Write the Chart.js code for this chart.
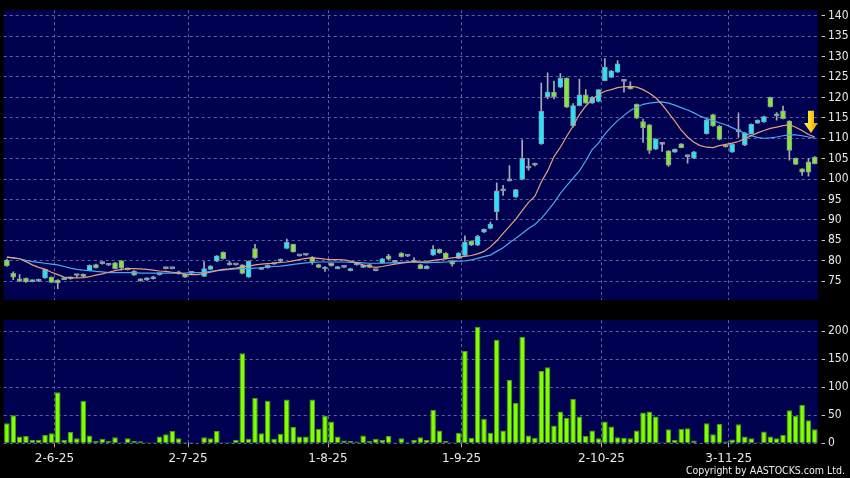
<!DOCTYPE html>
<html>
<head>
<meta charset="utf-8">
<script src="https://cdn.jsdelivr.net/npm/chart.js@4.4.1/dist/chart.umd.min.js"></script>
<style>
	html, body { margin: 0; padding: 0; background: #000; }
	#wrap { position: relative; width: 850px; height: 478px; overflow: hidden; background: #000; }
	#price { position: absolute; left: 0; top: 0; }
	#volume { position: absolute; left: 0; top: 310px; }
	#copy {
		position: absolute; right: 5px; top: 464px;
		font: 10.5px "DejaVu Sans Condensed", "DejaVu Sans", sans-serif;
		color: #ececec; white-space: nowrap;
	}
</style>
</head>
<body>
<div id="wrap">
	<canvas id="price" width="850" height="310"></canvas>
	<canvas id="volume" width="850" height="168"></canvas>
	<div id="copy">Copyright by AASTOCKS.com Ltd.</div>
</div>
<script>
// Dias de negociação (HK) de 22-5-25 a 21-11-25
const feriados = ["2025-07-01", "2025-10-01", "2025-10-07", "2025-10-29"];
const dias = [];
for (let d = new Date(Date.UTC(2025, 4, 22)); d <= new Date(Date.UTC(2025, 10, 21)); d.setUTCDate(d.getUTCDate() + 1)) {
	const wd = d.getUTCDay();
	if (wd === 0 || wd === 6 || feriados.includes(d.toISOString().slice(0, 10))) continue;
	dias.push(`${d.getUTCDate()}-${d.getUTCMonth() + 1}-${String(d.getUTCFullYear()).slice(2)}`);
}

// Rótulos do eixo x
const rotulos = ["2-6-25", "2-7-25", "1-8-25", "1-9-25", "2-10-25", "3-11-25"];

// OHLC
const abertura = [
	80.2, 76.9, 75.6, 75.7, 74.9, 75.0, 75.8, 76.0, 75.3, 75.4,
	75.6, 76.4, 76.7, 77.6, 79.1, 79.3, 78.9, 79.5, 80.0, 77.8,
	77.5, 75.5, 75.3, 75.6, 76.6, 78.1, 78.1, 76.8, 76.7, 76.9,
	null, 76.2, 77.9, 79.9, 82.1, 79.0, 79.0, 79.0, 76.0, 83.0,
	77.9, 78.3, 79.2, 79.9, 83.0, 84.0, 81.2, 81.4, 80.9, 79.1,
	78.0, 79.4, 78.1, 78.4, 77.6, 79.0, 78.4, 79.1, 77.6, 79.5,
	81.2, 79.6, 81.9, 81.1, 79.7, 79.1, 78.1, 81.4, 82.8, 81.9,
	80.0, 80.6, 81.3, 84.8, 83.8, 87.0, 87.9, 92.0, 97.1, 99.6,
	95.6, 99.9, 102.7, 103.4, 108.6, 120.1, 121.3, 122.5, 124.7, 113.1,
	118.0, 120.6, 118.6, 119.0, 124.1, 124.9, 126.2, 123.9, 122.7, 118.3,
	114.1, 113.3, 107.3, 108.5, 106.9, 106.6, 108.6, 105.5, 105.1, null,
	111.1, 115.8, 113.0, 108.3, 106.6, 111.6, 108.3, 111.1, 113.7, 114.0,
	120.0, 115.5, 116.7, 114.2, 105.1, 102.5, 104.2, 105.4,
];
const maxima = [
	80.4, 77.3, 76.6, 75.8, 75.3, 75.5, 78.0, 76.1, 75.4, 75.7,
	76.1, 76.7, 76.8, 79.0, 79.2, 79.8, 79.0, 79.6, 80.1, 78.2,
	77.6, 75.6, 75.9, 76.2, 77.0, 78.3, 78.2, 77.5, 76.8, 77.1,
	null, 79.8, 78.8, 81.3, 82.2, 79.9, 79.1, 79.1, 80.0, 84.0,
	78.4, 79.0, 79.3, 80.5, 85.3, 84.1, 81.3, 81.5, 81.0, 79.2,
	78.6, 79.5, 78.6, 78.5, 78.2, 79.4, 78.9, 79.2, 77.7, 80.6,
	81.6, 80.0, 82.0, 81.2, 80.8, 79.2, 78.8, 83.7, 82.9, 82.0,
	80.1, 82.0, 86.1, 84.9, 86.3, 87.8, 89.5, 99.1, 98.5, 103.3,
	97.5, 109.6, 105.0, 103.9, 123.5, 126.0, 124.0, 125.8, 124.8, 118.5,
	124.5, 121.9, 120.2, 122.0, 129.5, 126.6, 129.0, 124.1, 123.8, 118.4,
	114.7, 113.4, 109.9, 109.0, 107.0, 107.4, 108.7, 105.9, 106.8, null,
	114.6, 115.9, 113.1, 108.4, 108.6, 116.2, 111.4, 113.5, 114.5, 115.4,
	120.1, 116.3, 117.9, 114.3, 105.2, 102.6, 105.0, 105.5,
];
const minimas = [
	78.6, 75.4, 74.9, 74.7, 74.8, 74.9, 75.7, 74.6, 73.2, 75.4,
	75.5, 76.0, 76.1, 77.5, 78.2, 79.2, 78.8, 78.0, 77.7, 77.7,
	76.4, 75.0, 75.2, 75.5, 76.5, 78.0, 78.0, 76.7, 75.9, 76.8,
	null, 76.1, 77.8, 79.8, 80.4, 78.9, 78.9, 76.8, 75.9, 80.6,
	77.8, 78.2, 79.1, 79.7, 82.9, 82.1, 81.1, 81.3, 79.1, 78.3,
	77.4, 78.7, 78.0, 78.3, 77.5, 78.9, 78.3, 78.3, 77.5, 79.4,
	80.3, 79.5, 80.9, 81.0, 79.6, 78.0, 78.0, 81.3, 81.8, 80.4,
	78.7, 80.5, 81.2, 83.7, 83.7, 86.9, 87.8, 90.0, 96.0, 99.5,
	95.5, 99.8, 102.2, 103.2, 108.5, 119.6, 119.6, 122.4, 117.5, 112.7,
	117.9, 118.5, 118.5, 118.9, 124.0, 124.8, 126.1, 121.3, 122.0, 114.8,
	109.0, 106.3, 107.2, 106.8, 103.1, 106.5, 107.6, 103.9, 105.0, null,
	111.0, 112.9, 109.6, 107.8, 106.5, 110.2, 108.2, 111.0, 113.6, 113.9,
	117.6, 114.4, 114.7, 104.6, 103.5, 100.9, 100.7, 103.7,
];
const fechamento = [
	78.8, 76.0, 75.0, 74.8, 75.2, 75.4, 77.9, 74.7, 74.6, 75.6,
	76.0, 76.4, 76.2, 78.9, 78.3, 79.3, 78.9, 78.1, 78.3, 78.1,
	76.5, 75.1, 75.8, 76.1, 76.9, 78.1, 78.1, 77.1, 76.0, 77.0,
	null, 78.1, 78.7, 81.2, 80.5, 79.5, 79.0, 76.9, 79.9, 80.7,
	78.3, 78.9, 79.2, 80.2, 84.5, 82.2, 81.2, 81.4, 79.8, 78.4,
	78.0, 78.8, 78.5, 78.4, 78.1, 79.3, 78.8, 78.4, 77.6, 80.5,
	80.4, 79.9, 81.0, 81.1, 80.2, 78.1, 78.7, 82.8, 81.9, 80.5,
	79.2, 81.9, 84.6, 83.8, 86.0, 87.7, 89.0, 97.1, 97.1, 99.6,
	97.4, 105.1, 102.7, 103.4, 116.6, 121.3, 120.1, 124.7, 117.6, 118.0,
	120.6, 118.6, 120.1, 121.9, 127.4, 126.5, 128.2, 123.9, 122.1, 114.9,
	112.5, 107.0, 109.8, 108.5, 103.4, 107.3, 107.7, 105.5, 106.7, null,
	114.5, 113.0, 109.7, 107.9, 108.5, 111.6, 111.3, 113.4, 114.4, 115.3,
	117.7, 115.9, 114.8, 107.0, 103.6, 101.7, 101.7, 103.8,
];

// Médias móveis (laranja = 10 dias, azul = 20 dias)
const media10 = [
	80.9, 80.7, 80.5, 79.8, 79.0, 78.4, 77.9, 77.2, 76.6, 76.0,
	75.8, 75.8, 75.9, 76.1, 76.5, 76.8, 77.2, 77.6, 77.9, 78.1,
	78.1, 78.0, 77.9, 77.7, 77.5, 77.4, 77.2, 77.0, 76.7, 76.6,
	76.6, 76.9, 77.2, 77.6, 77.9, 78.0, 78.2, 78.5, 78.7, 79.0,
	79.2, 79.3, 79.4, 79.6, 79.7, 80.0, 80.3, 80.6, 80.7, 80.6,
	80.4, 80.3, 80.3, 80.2, 79.9, 79.5, 79.0, 78.6, 78.4, 78.6,
	78.9, 79.2, 79.4, 79.6, 79.8, 79.7, 79.8, 80.1, 80.3, 80.5,
	80.7, 80.9, 81.1, 81.3, 81.7, 82.3, 83.4, 84.9, 86.7, 88.4,
	90.2, 92.3, 94.3, 95.8, 99.3, 102.0, 105.5, 107.8, 110.5, 113.0,
	115.8, 117.9, 119.5, 120.7, 121.5, 121.9, 122.4, 122.6, 122.7, 122.5,
	121.9, 121.0, 119.9, 118.2, 116.2, 114.2, 112.0, 110.3, 109.0, 108.2,
	107.8, 107.7, 108.2, 108.5, 108.8, 109.2, 109.9, 110.6, 111.3, 111.9,
	112.4, 112.7, 113.1, 113.3, 112.7, 111.9, 110.9, 110.3,
];
const media20 = [
	80.9, 80.7, 80.5, 80.1, 79.8, 79.6, 79.4, 79.2, 79.0, 78.6,
	78.2, 77.9, 77.7, 77.6, 77.4, 77.3, 77.1, 77.1, 77.1, 77.1,
	77.1, 77.0, 77.0, 77.0, 77.0, 77.0, 77.0, 77.0, 77.0, 77.1,
	77.1, 77.2, 77.4, 77.6, 77.7, 77.9, 78.0, 78.1, 78.1, 78.2,
	78.3, 78.5, 78.6, 78.7, 78.9, 79.1, 79.3, 79.5, 79.6, 79.7,
	79.7, 79.7, 79.7, 79.7, 79.6, 79.6, 79.5, 79.4, 79.4, 79.4,
	79.5, 79.5, 79.6, 79.7, 79.7, 79.6, 79.5, 79.6, 79.6, 79.7,
	79.8, 79.9, 80.0, 80.2, 80.6, 81.0, 81.4, 82.3, 83.2, 84.4,
	85.5, 86.7, 87.9, 88.9, 90.3, 92.2, 94.2, 96.5, 98.4, 100.2,
	102.0, 104.5, 107.2, 108.8, 111.0, 112.8, 114.3, 115.6, 116.8, 117.6,
	118.3, 118.6, 118.8, 118.9, 118.6, 118.1, 117.5, 116.9, 116.2, 115.4,
	114.8, 114.3, 113.8, 113.3, 112.6, 111.9, 111.2, 110.6, 110.2, 110.0,
	110.1, 110.3, 110.6, 110.8, 110.8, 110.6, 110.3, 110.0,
];

// Volume (em milhares)
const volume = [
	36, 50, 12, 13, 6, 6, 15, 18, 91, 6,
	20, 9, 76, 14, 4, 8, 4, 11, 2, 9,
	4, 3.5, 2, 2, 12, 16, 22, 9, 2, 2,
	0, 11, 9, 22, 2, 2, 6, 161, 8, 81,
	18, 76, 8, 17, 78, 29, 12, 12, 78, 26,
	49, 39, 12, 5, 4, 3, 14, 4, 8, 6,
	13, 0.5, 9, 2, 6, 11, 6, 60, 23, 4,
	2, 19, 165, 10, 208, 44, 19, 185, 23, 113,
	72, 190, 14, 10, 129, 136, 32, 57, 45, 79,
	48, 13, 23, 9, 39, 30, 11, 10, 9, 23,
	55, 57, 48, 2, 25, 6, 26, 27, 5, 0,
	36, 16, 35, 3, 7, 34, 12, 9, 2, 21,
	12, 9, 15, 59, 49, 69, 41, 25,
];

// Seta amarela (índice e faixa de preço)
const seta = { indice: 126.4, topo: 116.7, ponta: 111.3 };

// Cores
const FUNDO = "#000050";
const GRADE = "#60629a";
const TEXTO = "#e8e8e8";
const CIANO = "#20e6ff";
const VERDE = "#86e636";
const CINZA = "#9ba2aa";
const FONTE_Y = '"DejaVu Sans Condensed", "DejaVu Sans", sans-serif';

Chart.defaults.font.family = '"DejaVu Sans", sans-serif';
Chart.defaults.font.size = 12;
Chart.defaults.color = TEXTO;

const corpos = abertura.map((o, i) => (o === null ? null : [o, fechamento[i]]));
const pavios = minimas.map((l, i) => (l === null ? null : [l, maxima[i]]));
const corCorpo = abertura.map((o, i) => {
	const c = fechamento[i];
	if (o === null) return CINZA;
	if (c > o) return CIANO;
	if (c < o) return VERDE;
	return CINZA;
});

// Linha de grade só depois do primeiro dia de cada mês
const gradeMes = (ctx) =>
	ctx.index > 0 && rotulos.includes(dias[ctx.index - 1]) ? GRADE : "rgba(0,0,0,0)";
const marcaMes = (ctx) =>
	ctx.index > 0 && rotulos.includes(dias[ctx.index - 1]) ? "#b0b0b0" : "rgba(0,0,0,0)";

// Fundo azul escuro da área do gráfico
const fundoPlugin = {
	id: "fundo",
	beforeDraw: (chart) => {
		const { ctx, chartArea: a } = chart;
		ctx.save();
		ctx.fillStyle = FUNDO;
		ctx.fillRect(a.left, a.top, a.right - a.left, a.bottom - a.top);
		ctx.restore();
	},
};

// Seta para baixo no fim da série
const setaPlugin = {
	id: "seta",
	afterDatasetsDraw: (chart) => {
		const { ctx, scales } = chart;
		const cx = scales.x.getPixelForValue(seta.indice);
		const yTopo = scales.y.getPixelForValue(seta.topo);
		const yPonta = scales.y.getPixelForValue(seta.ponta);
		const yPesc = yPonta - 10;
		const g = ctx.createLinearGradient(cx - 7, 0, cx + 7, 0);
		g.addColorStop(0, "#fff45a");
		g.addColorStop(0.5, "#ffd21e");
		g.addColorStop(1, "#e08c00");
		ctx.save();
		ctx.beginPath();
		ctx.moveTo(cx - 3, yTopo);
		ctx.lineTo(cx + 3, yTopo);
		ctx.lineTo(cx + 3, yPesc);
		ctx.lineTo(cx + 7, yPesc);
		ctx.lineTo(cx, yPonta);
		ctx.lineTo(cx - 7, yPesc);
		ctx.lineTo(cx - 3, yPesc);
		ctx.closePath();
		ctx.fillStyle = g;
		ctx.fill();
		ctx.restore();
	},
};

const eixoY = (min, max, passo) => ({
	position: "right",
	min,
	max,
	afterFit: (s) => { s.width = 32; },
	ticks: {
		stepSize: passo,
		includeBounds: false,
		padding: 3,
		font: { family: FONTE_Y, size: 12 },
		color: TEXTO,
	},
	grid: {
		color: GRADE,
		drawTicks: true,
		tickLength: 7,
		tickColor: "#c8c8c8",
		tickBorderDash: [0, 3.5, 4, 20],
	},
	border: { display: false, dash: [3, 3] },
});

// Gráfico de preços
new Chart(document.getElementById("price"), {
	type: "bar",
	data: {
		labels: dias,
		datasets: [
			{
				type: "line", label: "MA10", data: media10,
				borderColor: "#e8a07a", borderWidth: 1.2, pointRadius: 0, order: 0,
			},
			{
				type: "line", label: "MA20", data: media20,
				borderColor: "#4aa8ee", borderWidth: 1.2, pointRadius: 0, order: 0,
			},
			{
				label: "corpo", data: corpos, backgroundColor: corCorpo,
				borderColor: "#8a97a4", borderWidth: 1, borderSkipped: false,
				barThickness: 5, minBarLength: 2, grouped: false, order: 1,
			},
			{
				label: "pavio", data: pavios, backgroundColor: "#a6adb5",
				barThickness: 1, grouped: false, order: 2,
			},
		],
	},
	options: {
		responsive: false,
		animation: false,
		events: [],
		layout: { padding: { left: 3.7, top: 4, bottom: 4, right: 0 } },
		plugins: { legend: { display: false }, tooltip: { enabled: false } },
		scales: {
			x: {
				offset: true,
				afterFit: (s) => { s.height = 0; },
				ticks: { display: false, autoSkip: false },
				grid: { offset: true, color: gradeMes, drawTicks: false },
				border: { display: false, dash: [3, 3] },
			},
			y: eixoY(70.45, 141.34, 5),
		},
	},
	plugins: [fundoPlugin, setaPlugin],
});

// Gráfico de volume
new Chart(document.getElementById("volume"), {
	type: "bar",
	data: {
		labels: dias,
		datasets: [
			{
				label: "Volume", data: volume,
				backgroundColor: "#80ff00", borderColor: "#4c9a16",
				borderWidth: 1, borderSkipped: "bottom",
				barPercentage: 0.88, categoryPercentage: 1,
			},
		],
	},
	options: {
		responsive: false,
		animation: false,
		events: [],
		layout: { padding: { left: 3.7, top: 8, bottom: 0, right: 0 } },
		plugins: { legend: { display: false }, tooltip: { enabled: false } },
		scales: {
			x: {
				offset: true,
				afterFit: (s) => { s.height = 34.7; },
				ticks: {
					autoSkip: false,
					maxRotation: 0,
					minRotation: 0,
					padding: 4,
					labelOffset: 3,
					color: TEXTO,
					callback: (v, i) => (rotulos.includes(dias[i]) ? dias[i] : ""),
				},
				grid: {
					offset: true, color: gradeMes, drawTicks: true,
					tickLength: 4, tickColor: marcaMes,
				},
				border: { display: false, dash: [3, 3] },
			},
			y: eixoY(0, 219.8, 50),
		},
	},
	plugins: [fundoPlugin],
});
</script>
</body>
</html>
